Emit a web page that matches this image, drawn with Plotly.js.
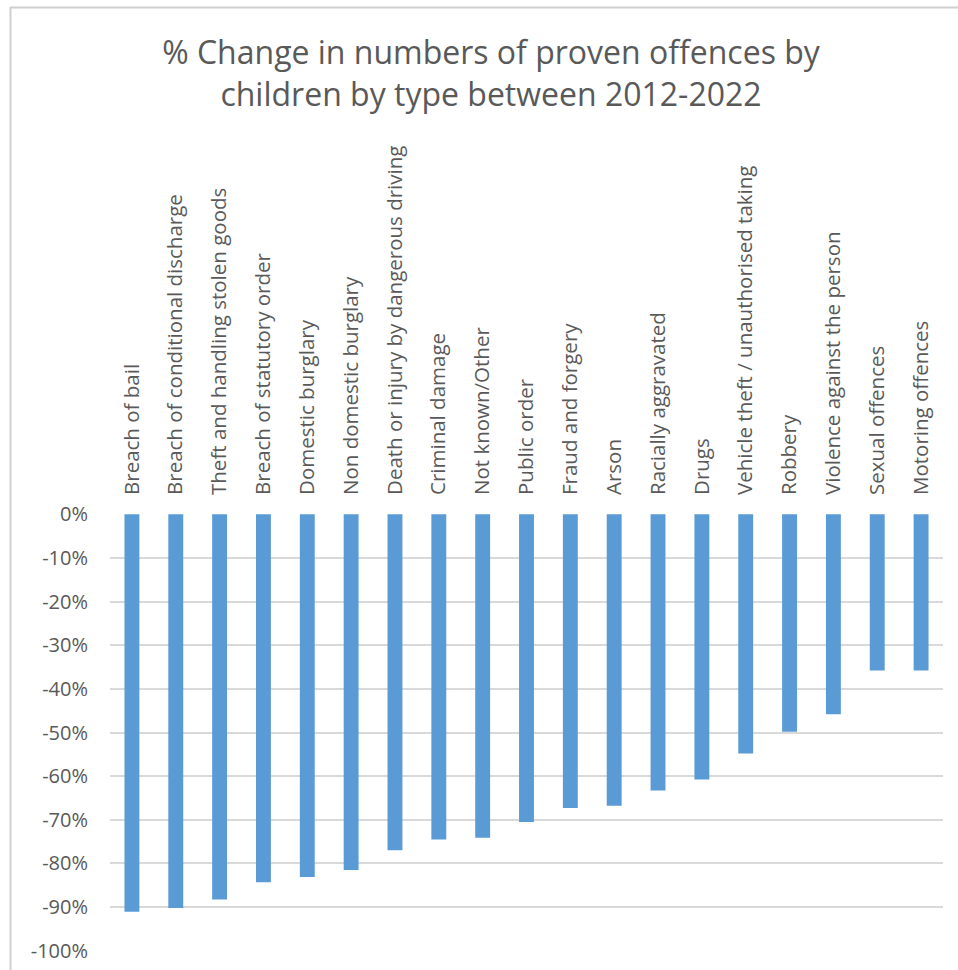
<!DOCTYPE html>
<html>
<head>
<meta charset="utf-8">
<script src="https://cdn.plot.ly/plotly-3.0.1.min.js"></script>
<style>
html,body{margin:0;padding:0;background:#fff;}
#chart{width:958px;height:970px;}
</style>
</head>
<body>
<div id="chart"></div>
<script>
const categories = [
  "Breach of bail",
  "Breach of conditional discharge",
  "Theft and handling stolen goods",
  "Breach of statutory order",
  "Domestic burglary",
  "Non domestic burglary",
  "Death or injury by dangerous driving",
  "Criminal damage",
  "Not known/Other",
  "Public order",
  "Fraud and forgery",
  "Arson",
  "Racially aggravated",
  "Drugs",
  "Vehicle theft / unauthorised taking",
  "Robbery",
  "Violence against the person",
  "Sexual offences",
  "Motoring offences"
];
const pctChange = [
  -0.911, -0.902, -0.883, -0.843, -0.831, -0.815, -0.770, -0.745, -0.741,
  -0.705, -0.673, -0.668, -0.633, -0.608, -0.548, -0.498, -0.458, -0.358, -0.358
];
const yTickVals = [0, -0.1, -0.2, -0.3, -0.4, -0.5, -0.6, -0.7, -0.8, -0.9, -1.0];
const yTickText = ["0%", "-10%", "-20%", "-30%", "-40%", "-50%", "-60%", "-70%", "-80%", "-90%", "-100%"];
const chartTitle = "% Change in numbers of proven offences by<br>children by type between 2012-2022";

const FONT = "'Open Sans', sans-serif";
const GREY = "#595959";

const trace = {
  type: "bar",
  x: categories,
  y: pctChange,
  marker: {color: "#5B9BD5"},
  hoverinfo: "x+y"
};

// plot area: x 110..943, y 514..951
const L = 110, R = 943, T = 514, B = 951, W = 958, H = 970;
const px2x = p => (p - L) / (R - L);
const px2y = p => (B - p) / (B - T);

const layout = {
  width: W, height: H,
  margin: {l: L, r: W - R, t: T, b: H - B, pad: 0},
  paper_bgcolor: "#fff",
  plot_bgcolor: "#fff",
  showlegend: false,
  bargap: 0.66,
  title: {
    text: chartTitle,
    font: {family: FONT, size: 32, color: GREY},
    x: 491 / W, xref: "container", xanchor: "center",
    y: 1 - 64 / H, yref: "container", yanchor: "middle"
  },
  xaxis: {
    type: "category",
    side: "top",
    tickangle: -90,
    ticklabelstandoff: 18,
    showgrid: false,
    showline: false,
    zeroline: false,
    ticks: "",
    tickfont: {family: FONT, size: 20.5, color: GREY},
    fixedrange: true
  },
  yaxis: {
    range: [-1.0008, 0.0008],
    tickvals: yTickVals,
    ticktext: yTickText,
    showgrid: true,
    gridcolor: "#d9d9d9",
    gridwidth: 2,
    zeroline: false,
    showline: false,
    ticks: "",
    ticklabelstandoff: 21,
    tickfont: {family: FONT, size: 20, color: GREY},
    fixedrange: true
  },
  shapes: [
    {type: "line", xref: "paper", yref: "paper",
     x0: px2x(10), x1: px2x(958), y0: px2y(7.5), y1: px2y(7.5),
     line: {color: "#d0d0d0", width: 2}},
    {type: "line", xref: "paper", yref: "paper",
     x0: px2x(10.5), x1: px2x(10.5), y0: px2y(7), y1: px2y(970),
     line: {color: "#d0d0d0", width: 2}}
  ]
};

Plotly.newPlot("chart", [trace], layout, {displayModeBar: false, staticPlot: true});
</script>
</body>
</html>
